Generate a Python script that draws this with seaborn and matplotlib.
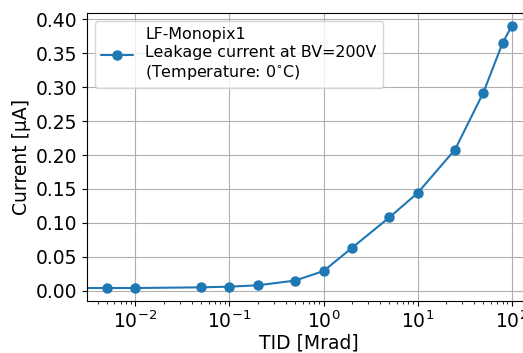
import numpy as np
import pandas as pd
import matplotlib
matplotlib.use("Agg")
import matplotlib.pyplot as plt
import seaborn as sns

# Total ionizing dose [Mrad] and leakage current [uA]
tid = [0.0, 0.005, 0.01, 0.05, 0.1, 0.2, 0.5, 1, 2, 5, 10, 25, 50, 80, 100]
current = [0.004, 0.004, 0.004, 0.005, 0.006, 0.008, 0.015, 0.029, 0.063,
           0.108, 0.144, 0.208, 0.292, 0.365, 0.390]

df = pd.DataFrame({"TID": tid, "Current": current})

sns.set_style("ticks", rc={"text.color": "black", "axes.labelcolor": "black",
                           "xtick.color": "black", "ytick.color": "black",
                           "axes.edgecolor": "black"})
plt.rcParams["font.family"] = ["DejaVu Sans"]

fig = plt.figure(figsize=(5.23, 3.53), dpi=100)
ax = fig.add_axes([0.166, 0.147, 0.851, 0.816])
ax.set_xscale("log")

label = "LF-Monopix1\nLeakage current at BV=200V\n(Temperature: 0$^{\\circ}$C)"
ax.plot(df["TID"], df["Current"], marker="o", color="#1f77b4",
        linewidth=1.5, markersize=6.5, label=label)

pos = df[df["TID"] > 0]
lo, hi = np.log10(pos["TID"].min()), np.log10(pos["TID"].max())
pad = 0.05 * (hi - lo)
ax.set_xlim(10 ** (lo - pad), 10 ** (hi + pad))

ax.grid(True, which="major", color="#b0b0b0", linewidth=0.8)
ax.set_xlabel("TID [Mrad]", fontsize=13.5, labelpad=1)
ax.set_ylabel("Current [µA]", fontsize=13.5, labelpad=3)
ax.tick_params(axis="both", which="major", labelsize=13.5, direction="out",
               length=3.5, width=0.8, color="black")
ax.tick_params(axis="x", which="minor", direction="out", length=2,
               width=0.6, color="black")
for sp in ax.spines.values():
    sp.set_color("black")
    sp.set_linewidth(0.8)
ax.set_yticks(np.arange(0, 0.41, 0.05))
ax.yaxis.set_major_formatter(matplotlib.ticker.FormatStrFormatter("%.2f"))

ax.legend(loc="upper left", fontsize=11.4, frameon=True, framealpha=0.8,
          edgecolor="#cccccc", fancybox=True)

fig.savefig("out.png", dpi=100)
